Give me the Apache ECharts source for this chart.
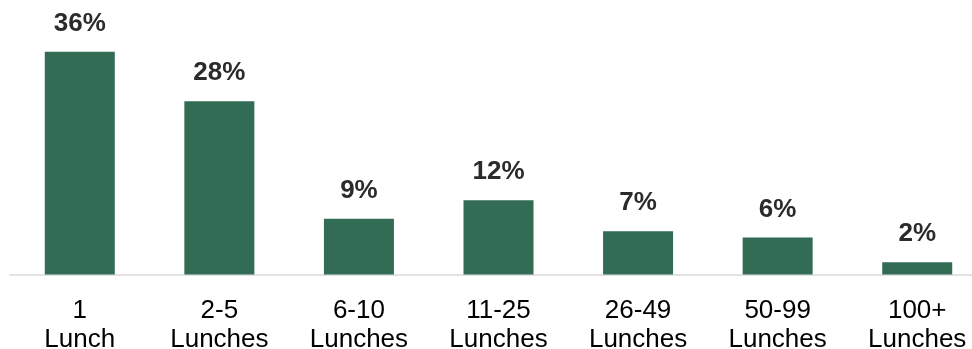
<!DOCTYPE html>
<html>
<head>
<meta charset="utf-8">
<script src="https://cdn.jsdelivr.net/npm/echarts@6/dist/echarts.min.js"></script>
<style>
  html, body { margin: 0; padding: 0; background: #ffffff; }
  #chart { width: 972px; height: 349px; }
</style>
</head>
<body>
<div id="chart"></div>
<script>
// Share of schools by number of lunches
const categories = ['1\nLunch', '2-5\nLunches', '6-10\nLunches', '11-25\nLunches', '26-49\nLunches', '50-99\nLunches', '100+\nLunches'];
const shares = [36, 28, 9, 12, 7, 6, 2];

const chart = echarts.init(document.getElementById('chart'), null, { renderer: 'canvas' });

chart.setOption({
  animation: false,
  grid: {
    left: 10, right: -15, top: 27, bottom: 74.5,
    containLabel: false,
    outerBoundsMode: 'none'
  },
  xAxis: {
    type: 'category',
    data: categories,
    axisTick: { show: false },
    axisLine: { show: true, lineStyle: { color: '#d9d9d9', width: 1.5 } },
    axisLabel: {
      interval: 0,
      margin: 22,
      color: '#000000',
      fontFamily: 'Liberation Sans, Arial, sans-serif',
      fontSize: 26,
      lineHeight: 29
    }
  },
  yAxis: {
    type: 'value',
    min: 0,
    max: 40,
    show: false,
    splitLine: { show: false }
  },
  series: [{
    type: 'bar',
    data: shares,
    barWidth: 70,
    itemStyle: { color: '#326c54' },
    label: {
      show: true,
      position: 'top',
      distance: 15,
      formatter: '{c}%',
      color: '#2b2b2b',
      fontFamily: 'Liberation Sans, Arial, sans-serif',
      fontWeight: 'bold',
      fontSize: 26,
      lineHeight: 26
    }
  }]
});
</script>
</body>
</html>
